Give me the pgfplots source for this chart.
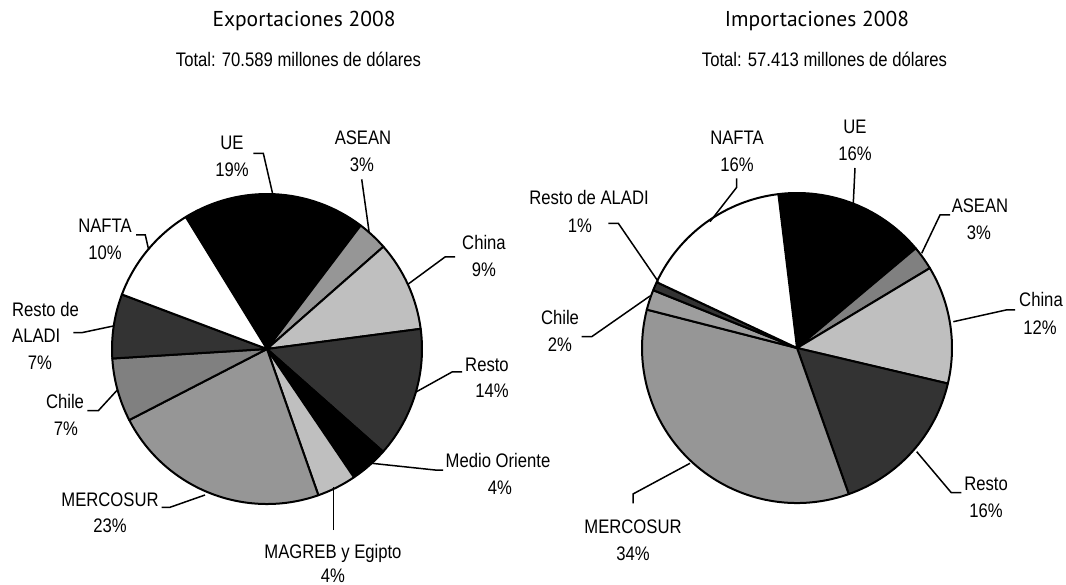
\documentclass[border=0pt]{standalone}
\usepackage{pgfplots}
\pgfplotsset{compat=1.18}
\usepackage{pgfplotstable}
\usepackage{fontspec}
\setmainfont{Liberation Sans}
\newfontfamily\lblfont{Liberation Sans}[FakeStretch=0.85]
\newfontfamily\ttlfont{PT Sans}

% shares in percent, shade = percent black
\pgfplotstableread{
name share shade
UE 19.1 100
ASEAN 3.2 41
China 9.4 25
Resto 13.6 80
MedioOriente 4.0 100
MAGREB 4.1 25
MERCOSUR 22.8 41
Chile 6.6 50
RestoALADI 6.7 80
NAFTA 10.5 0
}\exportdata

\pgfplotstableread{
name share shade
UE 15.8 100
ASEAN 2.5 50
China 12.3 25
Resto 15.9 80
MERCOSUR 34.4 41
Chile 2.1 38
RestoALADI 0.9 80
NAFTA 16.1 0
}\importdata

\newcommand\drawpie[5]{% table, cx, cy, radius, start angle
  \pgfplotstablegetrowsof{#1}%
  \pgfmathtruncatemacro\lastrow{\pgfplotsretval-1}%
  \pgfmathsetmacro\angA{#5}%
  \pgfplotsforeachungrouped \i in {0,...,\lastrow}{%
    \pgfplotstablegetelem{\i}{share}\of{#1}\let\sh\pgfplotsretval
    \pgfplotstablegetelem{\i}{shade}\of{#1}\let\shd\pgfplotsretval
    \pgfmathsetmacro\angB{\angA-3.6*\sh}%
    \edef\doslice{\noexpand\filldraw[fill=black!\shd, draw=black, line width=2pt, line join=round]
      (axis cs:#2,#3) -- (axis cs:{#2+#4*cos(\angA)},{#3-#4*sin(\angA)})
      arc[start angle=\angA, end angle=\angB, radius=#4pt] -- cycle;}%
    \doslice
    \global\let\angA\angB
  }%
}

\newcommand\lbl{\lblfont\fontsize{19.6}{23}\selectfont}
\newcommand\ttl{\ttlfont\fontsize{21.5}{25}\selectfont}

\begin{document}
\begin{tikzpicture}
\begin{axis}[
  at={(0,0)}, anchor=south west,
  x=1pt, y=1pt, y dir=reverse,
  xmin=0, xmax=1066, ymin=0, ymax=585,
  hide axis, clip=false,
]
\drawpie{\exportdata}{267}{349}{155}{121.6}
\drawpie{\importdata}{797}{348}{155}{96.9}

% titles
\node[anchor=base, font=\ttl] at (axis cs:304,27) {Exportaciones 2008};
\node[anchor=base, font=\lbl] at (axis cs:298.5,67) {Total: 70.589 millones de dólares};
\node[anchor=base, font=\ttl] at (axis cs:817,27) {Importaciones 2008};
\node[anchor=base, font=\lbl] at (axis cs:824.5,67) {Total: 57.413 millones de dólares};

% leader lines
\begin{scope}[line width=1.5pt]
% exports
\draw (axis cs:253.3,153.3) -- (axis cs:263.3,153.3) -- (axis cs:272.7,194);
\draw (axis cs:361.7,179.3) -- (axis cs:369.3,233.3);
\draw (axis cs:455,257) -- (axis cs:445,257) -- (axis cs:408.3,284);
\draw (axis cs:462,372) -- (axis cs:452,372) -- (axis cs:416,392);
\draw (axis cs:443,470) -- (axis cs:435,470) -- (axis cs:371.7,463.3);
\draw (axis cs:333.3,530) -- (axis cs:333.3,487);
\draw (axis cs:161.7,507.3) -- (axis cs:170,507.3) -- (axis cs:205,495);
\draw (axis cs:87.3,410.7) -- (axis cs:98.3,410.7) -- (axis cs:117.3,390);
\draw (axis cs:73.3,332.7) -- (axis cs:81.7,332.7) -- (axis cs:113.3,326);
\draw (axis cs:136,235) -- (axis cs:145.3,235) -- (axis cs:148.7,250);
% imports
\draw (axis cs:736.7,178.3) -- (axis cs:736.7,187.3) -- (axis cs:710,221.7);
\draw (axis cs:855,168) -- (axis cs:853.3,203);
\draw (axis cs:950,215) -- (axis cs:940,215) -- (axis cs:921.7,253.3);
\draw (axis cs:1015,310) -- (axis cs:1006,310) -- (axis cs:953.3,321.7);
\draw (axis cs:961.3,492.7) -- (axis cs:951.3,492.7) -- (axis cs:916.7,451.7);
\draw (axis cs:633,503.3) -- (axis cs:633,494) -- (axis cs:690,463.3);
\draw (axis cs:581.7,336.7) -- (axis cs:591.7,336.7) -- (axis cs:650,296);
\draw (axis cs:608.3,223.3) -- (axis cs:618.3,223.3) -- (axis cs:658.3,281.7);
\end{scope}

% export labels
\begin{scope}[every node/.style={anchor=base, font=\lbl, inner sep=0pt}]
\node at (axis cs:232,150) {UE};
\node at (axis cs:232,177) {19\%};
\node at (axis cs:363,145) {ASEAN};
\node at (axis cs:362,172) {3\%};
\node at (axis cs:484,250) {China};
\node at (axis cs:484,277) {9\%};
\node at (axis cs:487,372) {Resto};
\node at (axis cs:492,398) {14\%};
\node at (axis cs:498,467) {Medio Oriente};
\node at (axis cs:500,494) {4\%};
\node at (axis cs:333,558) {MAGREB y Egipto};
\node at (axis cs:333,582) {4\%};
\node at (axis cs:110,506) {MERCOSUR};
\node at (axis cs:110,532) {23\%};
\node at (axis cs:65,408) {Chile};
\node at (axis cs:66,435) {7\%};
\node[anchor=base west] at (axis cs:12,317) {Resto de};
\node[anchor=base west] at (axis cs:12,343) {ALADI};
\node at (axis cs:40,370) {7\%};
\node at (axis cs:105,233) {NAFTA};
\node at (axis cs:105,260) {10\%};
% import labels
\node at (axis cs:737,145) {NAFTA};
\node at (axis cs:737,172) {16\%};
\node at (axis cs:855,134) {UE};
\node at (axis cs:855,161) {16\%};
\node at (axis cs:980,213) {ASEAN};
\node at (axis cs:979,240) {3\%};
\node at (axis cs:1041,307) {China};
\node at (axis cs:1040,335) {12\%};
\node at (axis cs:986,490) {Resto};
\node at (axis cs:986,517) {16\%};
\node at (axis cs:633,533) {MERCOSUR};
\node at (axis cs:633,560) {34\%};
\node at (axis cs:560,325) {Chile};
\node at (axis cs:560,352) {2\%};
\node at (axis cs:589,205) {Resto de ALADI};
\node at (axis cs:580,233) {1\%};
\end{scope}
\end{axis}
\pgfresetboundingbox
\useasboundingbox (0,0) rectangle (1066pt,585pt);
\end{tikzpicture}
\end{document}
